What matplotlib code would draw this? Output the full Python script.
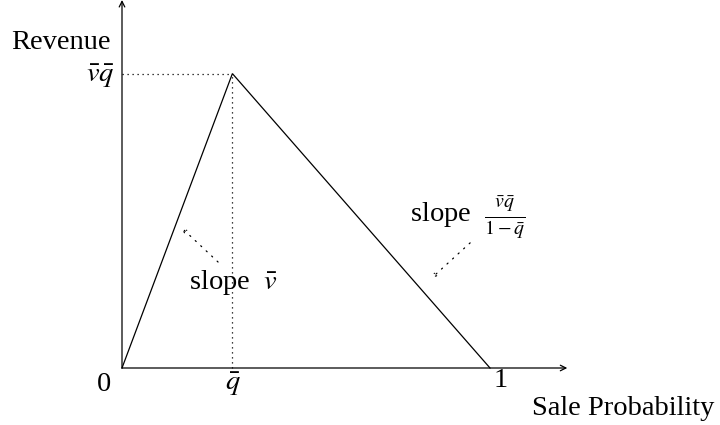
import matplotlib
matplotlib.use("Agg")
import matplotlib.pyplot as plt

plt.rcParams['font.family'] = ['Liberation Serif', 'DejaVu Serif']
plt.rcParams['mathtext.fontset'] = 'stix'

# data
q_bar = 0.30          # sale probability at the peak
vq_bar = 0.80         # peak revenue
x_points = [0.0, q_bar, 1.0]
y_points = [0.0, vq_bar, 0.0]
x_axis_end = 1.21
y_axis_end = 1.0

fig = plt.figure(figsize=(7.2, 4.25), dpi=100)
ax = fig.add_axes([0, 0, 1, 1])
ax.set_xlim(-122/368, (720-122)/368)
ax.set_ylim(-(425-368)/368, 368/368)
ax.axis('off')

fs = 20.5
# axes
ax.annotate('', xy=(x_axis_end, 0), xytext=(0, 0),
            arrowprops=dict(arrowstyle='->', lw=0.9, color='black', shrinkA=0, shrinkB=0))
ax.annotate('', xy=(0, y_axis_end), xytext=(0, 0),
            arrowprops=dict(arrowstyle='->', lw=0.9, color='black', shrinkA=0, shrinkB=0))

# revenue curve
ax.plot(x_points, y_points, color='black', lw=0.9, solid_joinstyle='miter')

# dotted guides
ax.plot([0, q_bar], [vq_bar, vq_bar], color='black', lw=0.9, ls=(0, (1, 3)))
ax.plot([q_bar, q_bar], [0, vq_bar], color='black', lw=0.9, ls=(0, (1, 3)))

# labels
ax.text(-0.03, 0.885, 'Revenue', fontsize=fs, ha='right', va='center')
ax.text(-0.02, 0.792, r'$\bar{v}\bar{q}$', fontsize=fs, ha='right', va='center')
ax.text(-0.05, -0.045, '0', fontsize=fs, ha='center', va='center')
ax.text(q_bar, -0.045, r'$\bar{q}$', fontsize=fs, ha='center', va='center')
ax.text(1.03, -0.033, '1', fontsize=fs, ha='center', va='center')
ax.text(1.115, -0.11, 'Sale Probability', fontsize=fs, ha='left', va='center')

# slope annotations
arrow_kw = dict(arrowstyle='->,head_length=0.25,head_width=0.12', lw=0.9,
                ls=(0, (1, 5)), color='black', shrinkA=0, shrinkB=0)
ax.text(0.302, 0.233, r'slope  $\bar{v}$', fontsize=fs, ha='center', va='center')
ax.annotate('', xy=(0.163, 0.380), xytext=(0.261, 0.288), arrowprops=arrow_kw)
ax.text(0.94, 0.41, r'slope  $\frac{\bar{v}\bar{q}}{1-\bar{q}}$', fontsize=fs, ha='center', va='center')
ax.annotate('', xy=(0.842, 0.245), xytext=(0.946, 0.340), arrowprops=arrow_kw)

fig.savefig('out.png', dpi=100)
